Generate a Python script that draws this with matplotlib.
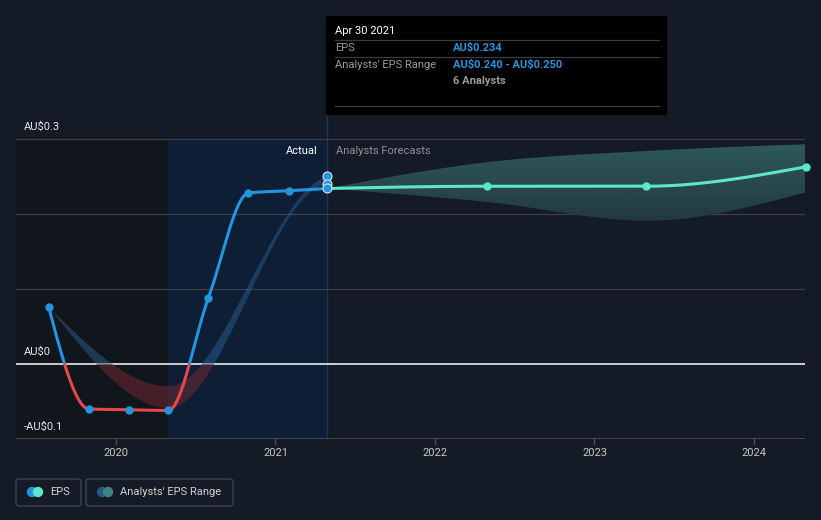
import numpy as np
import pandas as pd
import matplotlib
matplotlib.use("Agg")
import matplotlib.pyplot as plt
from matplotlib.patches import Rectangle, FancyBboxPatch, Ellipse
from matplotlib.colors import LinearSegmentedColormap

plt.rcParams['font.family'] = ['Roboto', 'DejaVu Sans']
plt.rcParams['text.parse_math'] = False

# ---------------- data ----------------
actual_dates = ["2019-07-31", "2019-10-31", "2020-01-31", "2020-04-30",
                "2020-07-31", "2020-10-31", "2021-01-31", "2021-04-30"]
actual_eps = [0.076, -0.060, -0.061, -0.062, 0.088, 0.228, 0.231, 0.234]

band_dates = ["2019-07-31", "2020-04-30", "2021-04-30", "2022-04-30"]
band_low = [0.076, -0.058, 0.240, 0.216]
band_high = [0.076, -0.029, 0.250, 0.269]

forecast_dates = ["2021-04-30", "2022-04-30", "2023-04-30", "2024-04-30"]
forecast_eps = [0.234, 0.237, 0.237, 0.263]
forecast_low = [0.234, 0.216, 0.191, 0.229]
forecast_high = [0.234, 0.269, 0.284, 0.293]

range_points = [0.240, 0.250]

ytick_values = [0.3, 0.0, -0.1]
ytick_labels = ["AU$0.3", "AU$0", "-AU$0.1"]
grid_values = [0.3, 0.2, 0.1]
xtick_years = [2020, 2021, 2022, 2023, 2024]

# ---------------- helpers ----------------
def to_year(dates):
    d = pd.to_datetime(pd.Series(dates))
    start = pd.to_datetime(d.dt.year.astype(str) + "-01-01")
    end = pd.to_datetime((d.dt.year + 1).astype(str) + "-01-01")
    return (d.dt.year + (d - start) / (end - start)).to_numpy(dtype=float)


def monotone(x, y, n=400):
    """d3 curveMonotoneX style cubic Hermite."""
    x = np.asarray(x, float); y = np.asarray(y, float)
    npt = len(x)
    h = np.diff(x); s = np.diff(y) / h
    m = np.zeros(npt)
    for i in range(1, npt - 1):
        h0, h1 = h[i - 1], h[i]
        s0, s1 = s[i - 1], s[i]
        p = (s0 * h1 + s1 * h0) / (h0 + h1)
        m[i] = (np.sign(s0) + np.sign(s1)) * min(abs(s0), abs(s1), 0.5 * abs(p))
    if npt > 2:
        m[0] = (3 * s[0] - m[1]) / 2
        m[-1] = (3 * s[-1] - m[-2]) / 2
    else:
        m[0] = m[-1] = s[0]
    xs = np.linspace(x[0], x[-1], n)
    idx = np.clip(np.searchsorted(x, xs) - 1, 0, npt - 2)
    t = (xs - x[idx]) / h[idx]
    h00 = 2 * t**3 - 3 * t**2 + 1; h10 = t**3 - 2 * t**2 + t
    h01 = -2 * t**3 + 3 * t**2; h11 = t**3 - t**2
    ys = h00 * y[idx] + h10 * h[idx] * m[idx] + h01 * y[idx + 1] + h11 * h[idx] * m[idx + 1]
    return xs, ys


W, H = 821, 520
def fx(px):
    return px / W
def fy(py):
    return 1 - py / H

ax_x = to_year(actual_dates)
b_x = to_year(band_dates)
fc_x = to_year(forecast_dates)

BG = "#151b26"
fig = plt.figure(figsize=(W / 100, H / 100), dpi=100, facecolor=BG)
ax = fig.add_axes([fx(16), fy(439), fx(805) - fx(16), fy(15) - fy(439)])
ax.set_facecolor(BG)
x0, x1 = 2019.373, 2024.32
ymin, ymax = -0.1, 0.4653
for s in ax.spines.values():
    s.set_visible(False)
ax.set_xticks([]); ax.set_yticks([])

# background regions
ax.fill_between([x0, ax_x[3]], -0.1, 0.3, color="#11151c", zorder=0, lw=0)
ax.fill_between([ax_x[3], ax_x[-1]], -0.1, 0.3, color="#0d1e35", zorder=0, lw=0)
ax.plot([ax_x[-1], ax_x[-1]], [-0.1, ymax], color="#1c355a", lw=1, zorder=1)

# grid
for g in grid_values:
    ax.axhline(g, color="#3a3f4a", lw=0.9, zorder=1)
ax.axhline(0, color="#ffffff", lw=1.1, zorder=2)
ax.axhline(-0.1, color="#4a4f5a", lw=1.2, zorder=2)

# ---------------- actual band (drawn up to last actual date) ----------------
bx, blo = monotone(b_x, band_low, n=800)
_, bhi = monotone(b_x, band_high, n=800)
keep = bx <= ax_x[-1] + 1e-9
bx, blo, bhi = bx[keep], blo[keep], bhi[keep]
big = 10
clip_pos = Rectangle((x0 - 1, 0), 10, big, transform=ax.transData)
clip_neg = Rectangle((x0 - 1, -big), 10, big, transform=ax.transData)
fb1 = ax.fill_between(bx, blo, bhi, color="#2a5d8f", alpha=0.5, lw=0, zorder=3)
fb1.set_clip_path(clip_pos)
fb2 = ax.fill_between(bx, blo, bhi, color="#7a2a35", alpha=0.5, lw=0, zorder=3)
fb2.set_clip_path(clip_neg)

# forecast band with vertical gradient
fxs, flo = monotone(fc_x, forecast_low)
_, fhi = monotone(fc_x, forecast_high)
poly = ax.fill_between(fxs, flo, fhi, color="none", lw=0, zorder=3)
cmap = LinearSegmentedColormap.from_list("fb", ["#223740", "#2f5a5a"])
grad = np.linspace(0, 1, 256).reshape(-1, 1)
im = ax.imshow(grad, cmap=cmap, origin="lower", aspect="auto",
               extent=[fc_x[0], fc_x[-1], min(forecast_low) - 0.005, max(forecast_high) + 0.002],
               zorder=3, interpolation="bilinear")
im.set_clip_path(poly.get_paths()[0], transform=ax.transData)
ax.set_xlim(x0, x1)
ax.set_ylim(ymin, ymax)

# ---------------- actual EPS line ----------------
lx, ly = monotone(ax_x, actual_eps)
l1, = ax.plot(lx, ly, color="#2394e0", lw=2.2, zorder=5, solid_capstyle="round")
l1.set_clip_path(Rectangle((x0 - 1, 0), 10, big, transform=ax.transData))
l2, = ax.plot(lx, ly, color="#e5484b", lw=2.2, zorder=5, solid_capstyle="round")
l2.set_clip_path(Rectangle((x0 - 1, -big), 10, big, transform=ax.transData))
ax.plot(ax_x[:-1], actual_eps[:-1], "o", color="#2394e0", ms=6, mec="none", zorder=6)

# forecast line
flx, fly = monotone(fc_x, forecast_eps)
ax.plot(flx, fly, color="#5ee6cb", lw=2.2, zorder=5)
ax.plot(fc_x[1:], forecast_eps[1:], "o", color="#5ee6cb", ms=6, mec="none", zorder=6, clip_on=False)

# points at last actual date
for v in range_points[::-1] + [actual_eps[-1]]:
    ax.plot([ax_x[-1]], [v], "o", color="#2394e0", ms=6.5, mec="#cfe6f7", mew=0.8, zorder=7)

# ---------------- texts ----------------
lab_col = "#e6e6e6"
for v, t in zip(ytick_values, ytick_labels):
    py = 364 - v * 750 - 12
    fig.text(fx(24), fy(py), t, color=lab_col, fontsize=8, va="center", ha="left")

for yr in xtick_years:
    ax.plot([yr, yr], [-0.1, -0.1 - 0.006], color="#4a4f5a", lw=1, clip_on=False)
    ax.text(yr, -0.1 - 0.018, str(yr), color="#c8c8c8", fontsize=8, ha="center", va="center")

fig.text(fx(318), fy(151), "Actual", color="#ffffff", fontsize=8, ha="right", va="center")
fig.text(fx(336), fy(151), "Analysts Forecasts", color="#8d9096", fontsize=8, ha="left", va="center")

# tooltip
fig.patches.append(Rectangle((fx(326), fy(114)), fx(666) - fx(326), fy(16) - fy(114),
                             transform=fig.transFigure, color="#000000", zorder=10))
for ly_ in [40, 57, 106]:
    fig.lines.append(plt.Line2D([fx(335), fx(659)], [fy(ly_), fy(ly_)], transform=fig.transFigure,
                                color="#3c3c3c", lw=0.9, zorder=11))
fig.text(fx(335), fy(31), "Apr 30 2021", color="#ffffff", fontsize=8, va="center", zorder=12)
fig.text(fx(335), fy(48), "EPS", color="#9a9a9a", fontsize=8, va="center", zorder=12)
fig.text(fx(453), fy(48), "AU$0.234", color="#2394e0", fontsize=8, fontweight="bold", va="center", zorder=12)
fig.text(fx(335), fy(65), "Analysts' EPS Range", color="#9a9a9a", fontsize=8, va="center", zorder=12)
fig.text(fx(453), fy(65), "AU$0.240 - AU$0.250", color="#2394e0", fontsize=8, fontweight="bold", va="center", zorder=12)
fig.text(fx(453), fy(81), "6 Analysts", color="#9a9a9a", fontsize=8, fontweight="bold", va="center", zorder=12)

# legend
def legbox(xa, xb):
    fig.patches.append(FancyBboxPatch((fx(xa), fy(506)), fx(xb) - fx(xa), fy(479) - fy(506),
                                      boxstyle="round,pad=0,rounding_size=0.004",
                                      transform=fig.transFigure, fc="none", ec="#3c4250", lw=1))
legbox(16, 81)
legbox(86, 233)
def edot(px, py, c):
    fig.patches.append(Ellipse((fx(px), fy(py)), 9 / W, 9 / H, transform=fig.transFigure, color=c))
edot(32, 492, "#2394e0"); edot(38, 492, "#5ee6cb")
edot(102, 492, "#235a86"); edot(108, 492, "#3e8484")
fig.text(fx(50), fy(492), "EPS", color="#d0d0d0", fontsize=8, va="center")
fig.text(fx(120), fy(492), "Analysts' EPS Range", color="#d0d0d0", fontsize=8, va="center")

fig.savefig("out.png", dpi=100, facecolor=BG)
